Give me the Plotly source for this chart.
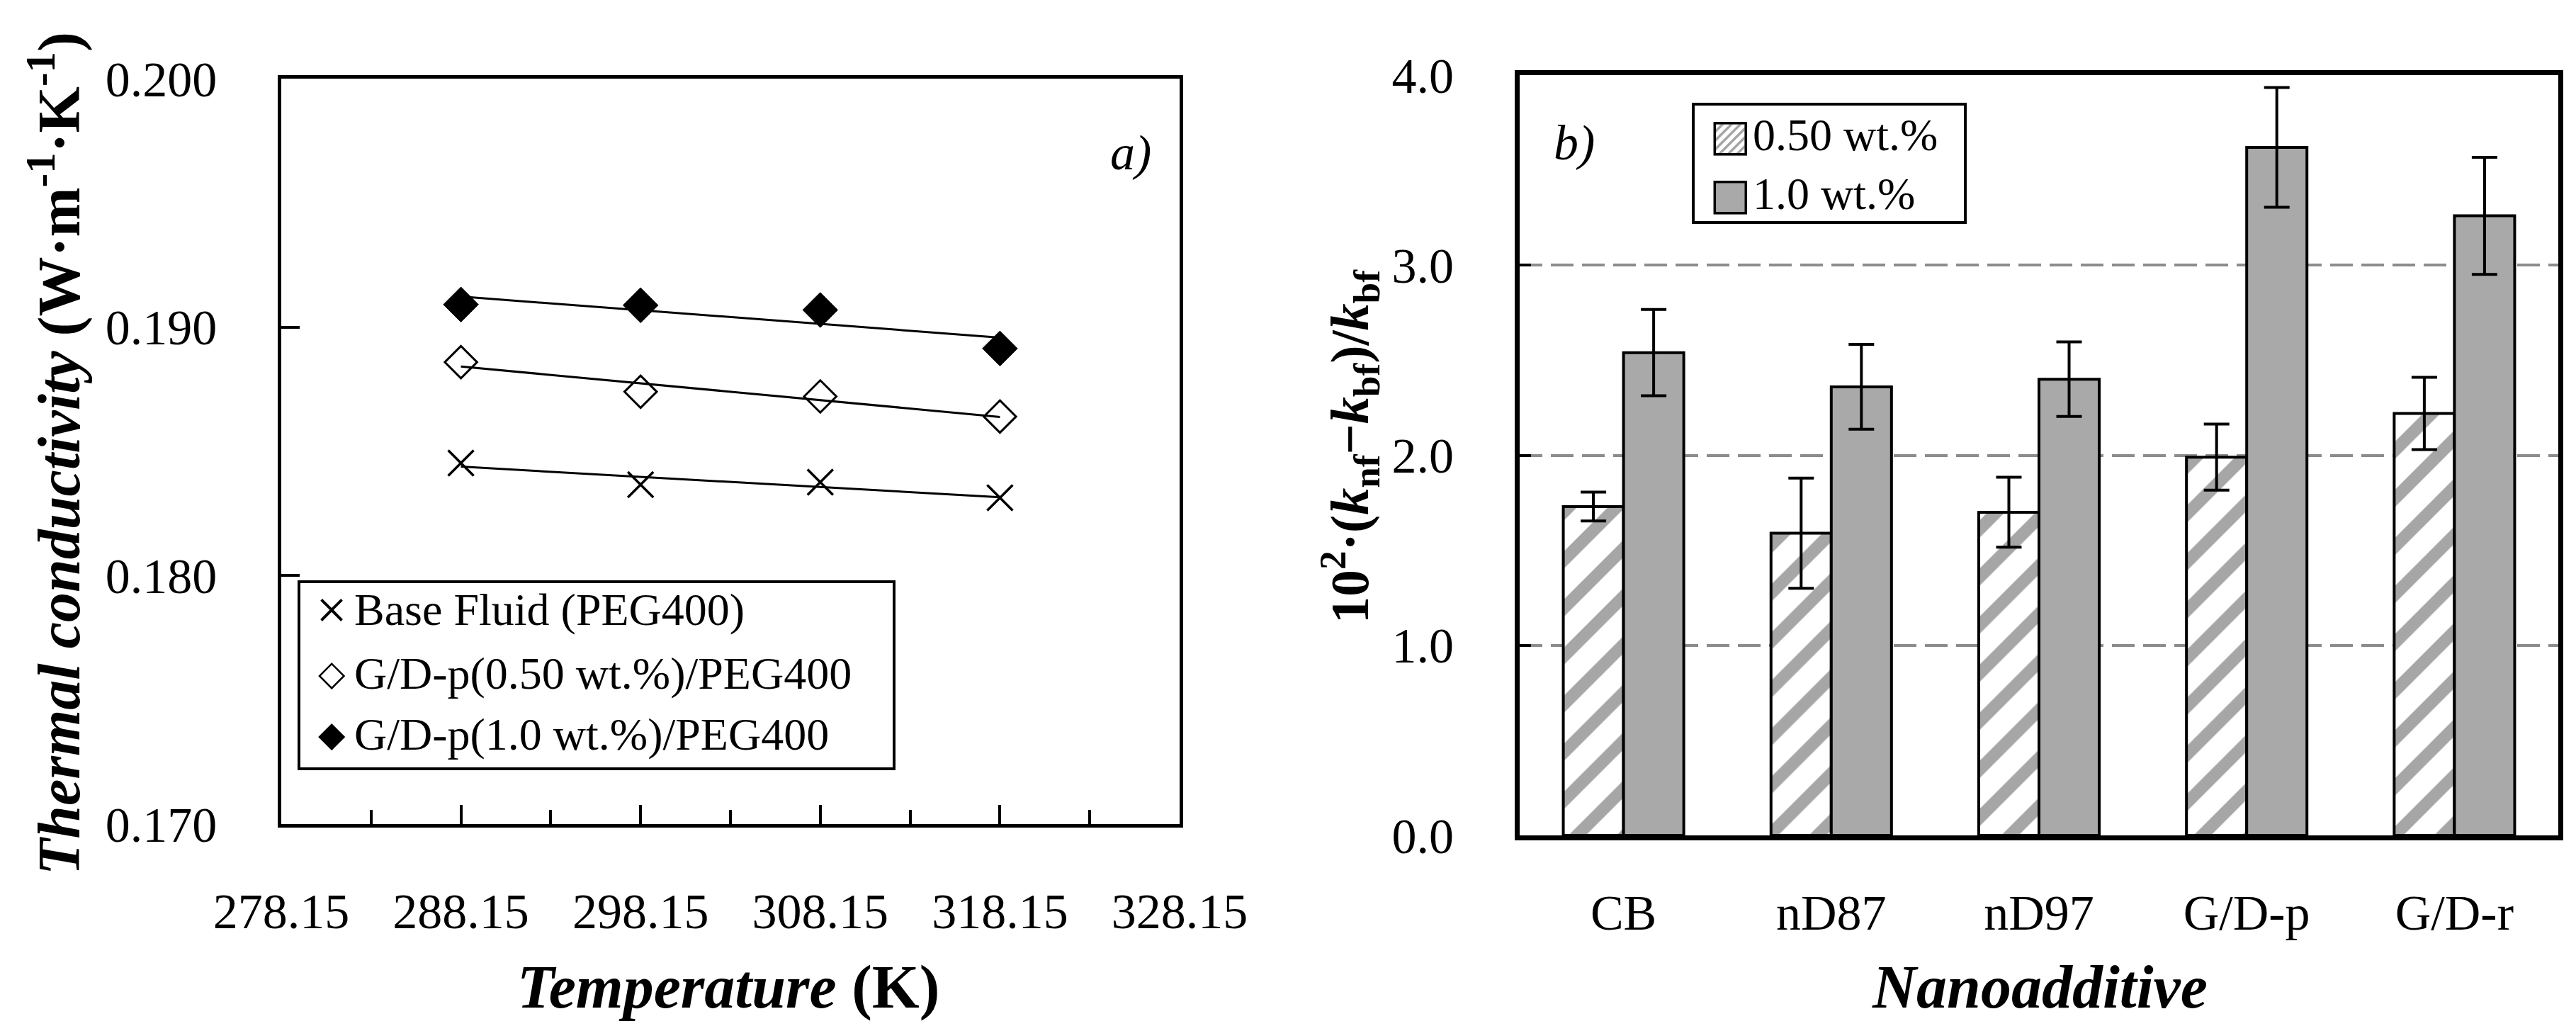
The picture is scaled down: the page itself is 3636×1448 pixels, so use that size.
import numpy as np
import plotly.graph_objects as go

# ---------------- data: panel a) ----------------
temperature_K = [288.15, 298.15, 308.15, 318.15]
k_base_fluid = [0.18453, 0.18366, 0.18376, 0.18313]
k_gdp_050 = [0.18859, 0.18740, 0.18721, 0.18640]
k_gdp_100 = [0.19091, 0.19088, 0.19069, 0.18914]
series_a_names = ["Base Fluid (PEG400)", "G/D-p(0.50 wt.%)/PEG400", "G/D-p(1.0 wt.%)/PEG400"]

# ---------------- data: panel b) ----------------
nanoadditives = ["CB", "nD87", "nD97", "G/D-p", "G/D-r"]
enh_050 = [1.73, 1.59, 1.70, 1.99, 2.22]
err_050 = [0.076, 0.29, 0.184, 0.174, 0.19]
enh_100 = [2.54, 2.36, 2.40, 3.62, 3.26]
err_100 = [0.227, 0.223, 0.196, 0.315, 0.308]
series_b_names = ["0.50 wt.%", "1.0 wt.%"]

W, H = 3636, 1448
SERIF = "Liberation Serif"


def px_x(v):
    return v / W


def px_y(v):
    return 1 - v / H


fig = go.Figure()

# ---- panel a) markers + linear trend lines ----
marker_styles = [
    dict(symbol="x-thin", size=36, color="black", line=dict(color="black", width=3.5)),
    dict(symbol="diamond-open", size=35, color="black", line=dict(color="black", width=3)),
    dict(symbol="diamond", size=38, color="black", line=dict(color="black", width=1)),
]
series_a = [k_base_fluid, k_gdp_050, k_gdp_100]
for name, ys, ms in zip(series_a_names, series_a, marker_styles):
    slope, intercept = np.polyfit(temperature_K, ys, 1)
    t_end = [temperature_K[0], temperature_K[-1]]
    fig.add_trace(go.Scatter(
        x=t_end, y=[slope * t + intercept for t in t_end], mode="lines",
        line=dict(color="black", width=3), showlegend=False, hoverinfo="skip",
        xaxis="x", yaxis="y"))
    fig.add_trace(go.Scatter(
        x=temperature_K, y=ys, mode="markers", name=name, marker=ms,
        showlegend=False, xaxis="x", yaxis="y"))

# ---- panel b) bars ----
fig.add_trace(go.Bar(
    x=nanoadditives, y=enh_050, name=series_b_names[0],
    marker=dict(color="white",
                pattern=dict(shape="/", fgcolor="#a6a6a6", bgcolor="white",
                             size=48, solidity=0.36, fillmode="replace"),
                line=dict(color="black", width=4)),
    error_y=dict(type="data", array=err_050, color="black", thickness=4, width=18),
    showlegend=False, xaxis="x2", yaxis="y2"))
fig.add_trace(go.Bar(
    x=nanoadditives, y=enh_100, name=series_b_names[1],
    marker=dict(color="#a9a9a9", line=dict(color="black", width=4)),
    error_y=dict(type="data", array=err_100, color="black", thickness=4, width=18),
    showlegend=False, xaxis="x2", yaxis="y2"))

tickfont = dict(family=SERIF, size=70, color="black")

fig.update_layout(
    width=W, height=H,
    margin=dict(l=0, r=0, t=0, b=0, autoexpand=False),
    paper_bgcolor="white", plot_bgcolor="white",
    barmode="group", bargap=0.42, bargroupgap=0,
    font=dict(family=SERIF, color="black"),
    xaxis=dict(
        domain=[px_x(389), px_x(1657)], anchor="y", automargin=False,
        range=[278.15, 328.15], tick0=278.15, dtick=10, tickformat=".2f",
        ticks="inside", ticklen=27, tickwidth=4, tickcolor="black",
        minor=dict(ticks="inside", ticklen=20, tickwidth=4, tickcolor="black",
                   dtick=5, tick0=278.15, showgrid=False),
        showline=True, linewidth=4.5, linecolor="black", mirror=True,
        showgrid=False, zeroline=False, tickfont=tickfont,
        ticklabelstandoff=58),
    yaxis=dict(
        domain=[px_y(1155), px_y(103)], anchor="x", automargin=False,
        range=[0.17, 0.2], dtick=0.01, tick0=0.17, tickformat=".3f",
        ticks="inside", ticklen=26, tickwidth=4, tickcolor="black",
        showline=True, linewidth=4.5, linecolor="black", mirror=True,
        showgrid=False, zeroline=False, tickfont=tickfont,
        ticklabelstandoff=72),
    xaxis2=dict(
        domain=[px_x(2137), px_x(3603)], anchor="y2", automargin=False,
        range=[-0.5, 4.5], ticks="",
        showline=True, linewidth=7, linecolor="black", mirror=True,
        showgrid=False, zeroline=False, tickfont=tickfont,
        ticklabelstandoff=42),
    yaxis2=dict(
        domain=[px_y(1171), px_y(98)], anchor="x2", automargin=False,
        range=[0, 4], dtick=1, tick0=0, tickformat=".1f",
        ticks="inside", ticklen=16, tickwidth=4, tickcolor="black",
        showline=True, linewidth=7, linecolor="black", mirror=True,
        showgrid=True, gridcolor="#8c8c8c", gridwidth=4, griddash="32px,12px",
        zeroline=False, tickfont=tickfont,
        ticklabelstandoff=72),
)

ann = []
# axis titles
ann.append(dict(x=px_x(70), y=px_y(632), xref="paper", yref="paper", textangle=-90,
                text="<b><i>Thermal conductivity</i> (W·m<sup>-1</sup>·K<sup>-1</sup>)</b>",
                font=dict(family=SERIF, size=84, color="black"),
                showarrow=False, xanchor="center", yanchor="middle"))
ann.append(dict(x=px_x(1020), y=px_y(1385), xref="paper", yref="paper",
                text="<b><i>Temperature</i> (K)</b>",
                font=dict(family=SERIF, size=86, color="black"),
                showarrow=False, xanchor="center", yanchor="middle"))
ann.append(dict(x=px_x(1898), y=px_y(622), xref="paper", yref="paper", textangle=-90,
                text="<b>10<sup>2</sup>·(<i>k</i><sub>nf</sub>−<i>k</i><sub>bf</sub>)/<i>k</i><sub>bf</sub></b>",
                font=dict(family=SERIF, size=76, color="black"),
                showarrow=False, xanchor="center", yanchor="middle"))
ann.append(dict(x=px_x(2871), y=px_y(1385), xref="paper", yref="paper",
                text="<b><i>Nanoadditive</i></b>",
                font=dict(family=SERIF, size=86, color="black"),
                showarrow=False, xanchor="center", yanchor="middle"))
# panel labels
ann.append(dict(x=px_x(1588), y=px_y(207), xref="paper", yref="paper", text="<i>a)</i>",
                font=dict(family=SERIF, size=70, color="black"),
                showarrow=False, xanchor="center", yanchor="middle"))
ann.append(dict(x=px_x(2214), y=px_y(193), xref="paper", yref="paper", text="<i>b)</i>",
                font=dict(family=SERIF, size=70, color="black"),
                showarrow=False, xanchor="center", yanchor="middle"))

# legend a)
legend_a_rows = [852, 942, 1028]
legend_a_glyphs = [("×", SERIF, 78), ("◇", "DejaVu Sans", 50), ("◆", "DejaVu Sans", 50)]
for name, row, (g, gf, gs) in zip(series_a_names, legend_a_rows, legend_a_glyphs):
    ann.append(dict(x=px_x(460), y=px_y(row), xref="paper", yref="paper", text=g,
                    font=dict(family=gf, size=gs, color="black"),
                    showarrow=False, xanchor="center", yanchor="middle"))
    ann.append(dict(x=px_x(490), y=px_y(row), xref="paper", yref="paper", text=name,
                    font=dict(family=SERIF, size=64, color="black"),
                    showarrow=False, xanchor="left", yanchor="middle"))

# legend b)
legend_b_rows = [182, 265]
legend_b_glyphs = [[("▨", "#a6a6a6"), ("□", "black")], [("■", "#a9a9a9"), ("□", "black")]]
for name, row, layers in zip(series_b_names, legend_b_rows, legend_b_glyphs):
    for g, col in layers:
        ann.append(dict(x=px_x(2434), y=px_y(row), xref="paper", yref="paper", text=g,
                        font=dict(family="DejaVu Sans", size=62, color=col),
                        showarrow=False, xanchor="center", yanchor="middle"))
    ann.append(dict(x=px_x(2464), y=px_y(row), xref="paper", yref="paper", text=name,
                    font=dict(family=SERIF, size=64, color="black"),
                    showarrow=False, xanchor="left", yanchor="middle"))

fig.update_layout(annotations=ann)

fig.update_layout(shapes=[
    dict(type="rect", xref="paper", yref="paper",
         x0=px_x(414), x1=px_x(1254), y0=px_y(1077), y1=px_y(813),
         line=dict(color="black", width=4), fillcolor="white", layer="above"),
    dict(type="rect", xref="paper", yref="paper",
         x0=px_x(2382), x1=px_x(2766), y0=px_y(306), y1=px_y(139),
         line=dict(color="black", width=4), fillcolor="white", layer="above"),
])

fig.write_html("out.html")
